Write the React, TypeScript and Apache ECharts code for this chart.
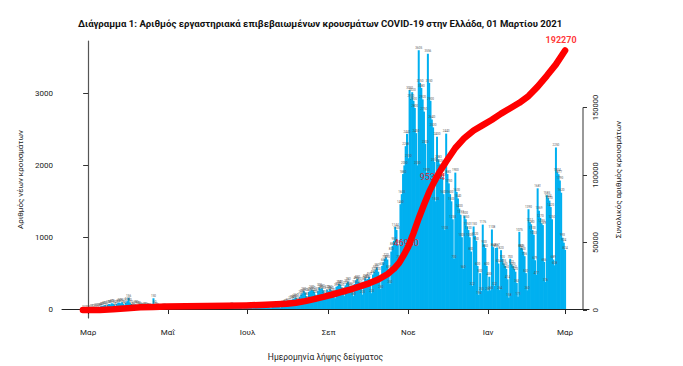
import React, { useEffect, useRef } from "react";
import * as echarts from "echarts";

// ---------------- DATA ----------------
const FIRST_BAR_DATE = "2020-02-26";

const cases2020Feb = [1, 1, 2, 3];
const cases2020Mar = [2, 3, 5, 9, 12, 15, 20, 10, 25, 30, 40, 45, 50, 55, 30, 60, 70, 65, 80, 75, 60, 40, 70, 85, 90, 80, 95, 70, 50, 90, 110];
const cases2020Apr = [156, 90, 70, 40, 30, 65, 60, 55, 50, 45, 30, 20, 35, 40, 30, 25, 20, 15, 10, 150, 60, 40, 20, 15, 10, 8, 15, 20, 15, 12];
const cases2020May = [8, 10, 5, 6, 12, 10, 15, 10, 8, 4, 10, 12, 15, 8, 10, 6, 3, 12, 10, 20, 15, 12, 8, 5, 12, 10, 18, 14, 10, 6, 5];
const cases2020Jun = [8, 12, 15, 10, 18, 12, 5, 10, 15, 12, 10, 20, 25, 8, 12, 30, 25, 20, 35, 15, 10, 18, 20, 22, 15, 12, 8, 10, 12, 20];
const cases2020Jul = [20, 25, 30, 15, 10, 35, 40, 45, 30, 40, 25, 15, 35, 40, 30, 25, 30, 20, 12, 30, 35, 40, 30, 45, 35, 20, 50, 60, 70, 80, 75];
const cases2020Aug = [100, 70, 120, 130, 140, 150, 160, 120, 90, 170, 200, 220, 250, 230, 180, 120, 240, 250, 270, 260, 240, 200, 140, 250, 300, 280, 290, 260, 200, 150, 270];
const cases2020Sep = [250, 280, 260, 230, 200, 150, 310, 320, 350, 340, 300, 250, 180, 330, 360, 380, 320, 300, 260, 180, 350, 400, 420, 380, 350, 280, 200, 380, 430, 410];
const cases2020Oct = [420, 450, 350, 220, 480, 520, 550, 580, 520, 400, 280, 600, 650, 700, 720, 690, 550, 350, 800, 880, 950, 1144, 1100, 900, 700, 1460, 1600, 1880, 2000, 2268, 2440];
const cases2020Nov = [2100, 3050, 2930, 3020, 2900, 2800, 2450, 2000, 3605, 3150, 3080, 2920, 2750, 2300, 1900, 3556, 3150, 2900, 2640, 2530, 2050, 1500, 2400, 2083, 2025, 1950, 1840, 1600, 1100, 2443];
const cases2020Dec = [1880, 1750, 1600, 1500, 1250, 700, 1900, 1630, 1540, 1400, 1313, 1000, 560, 1300, 1250, 1150, 1100, 1000, 800, 322, 1150, 1020, 950, 600, 196, 500, 253, 1176, 900, 850, 600];
const cases2021Jan = [250, 450, 260, 1108, 862, 322, 850, 857, 634, 264, 820, 700, 635, 600, 560, 414, 158, 700, 622, 600, 560, 520, 363, 171, 1075, 852, 846, 800, 736, 500, 260];
const cases2021Feb = [1390, 1211, 1180, 1100, 1033, 679, 477, 1681, 1369, 1270, 1195, 1169, 656, 376, 1585, 1544, 1510, 1420, 1250, 689, 608, 2250, 1904, 1877, 1790, 1620, 993, 924];
const cases2021Mar = [824];

const totalDates = [
  "2020-02-26", "2020-03-10", "2020-03-20", "2020-03-31", "2020-04-10", "2020-04-20", "2020-04-30",
  "2020-05-15", "2020-05-31", "2020-06-15", "2020-06-30", "2020-07-15", "2020-07-31", "2020-08-07",
  "2020-08-14", "2020-08-21", "2020-08-28", "2020-09-04", "2020-09-11", "2020-09-18", "2020-09-25",
  "2020-10-02", "2020-10-09", "2020-10-16", "2020-10-21", "2020-10-25", "2020-10-29", "2020-11-01",
  "2020-11-05", "2020-11-09", "2020-11-13", "2020-11-17", "2020-11-21", "2020-11-25", "2020-11-30",
  "2020-12-07", "2020-12-14", "2020-12-21", "2020-12-28", "2021-01-04", "2021-01-11", "2021-01-18",
  "2021-01-25", "2021-02-01", "2021-02-08", "2021-02-15", "2021-02-22", "2021-03-01",
];
const totalValues = [
  1, 100, 550, 1400, 2050, 2300, 2600,
  2800, 2950, 3200, 3450, 3900, 4650, 5400,
  6600, 8100, 9700, 11500, 13400, 15300, 17500,
  19800, 22600, 26500, 30500, 35000, 41500, 46980,
  57000, 68000, 78000, 87500, 95334, 102500, 110000,
  120000, 127500, 133000, 137000, 141000, 145500, 149500,
  153500, 158500, 165500, 173500, 182000, 192270,
];
const labelledTotalDates = ["2020-11-01", "2020-11-21", "2021-03-01"];

const monthTickDates = ["2020-03-01", "2020-05-01", "2020-07-01", "2020-09-01", "2020-11-01", "2021-01-01", "2021-03-01"];
const monthTickLabels = ["Μαρ", "Μαΐ", "Ιουλ", "Σεπ", "Νοε", "Ιαν", "Μαρ"];
const leftTicks = [0, 1000, 2000, 3000];
const rightTicks = [0, 50000, 100000, 150000];

const TITLE = "Διάγραμμα 1: Αριθμός εργαστηριακά επιβεβαιωμένων κρουσμάτων COVID-19 στην Ελλάδα, 01 Μαρτίου 2021";
const X_NAME = "Ημερομηνία λήψης δείγματος";
const LEFT_NAME = "Αριθμός νέων κρουσμάτων";
const RIGHT_NAME = "Συνολικός αριθμός κρουσμάτων";

// ---------------- HELPERS ----------------
const ORIGIN = Date.UTC(2020, 2, 1);
const DAY = 86400000;
const dayIndex = (s: string) => {
  const [y, m, d] = s.split("-").map(Number);
  return Math.round((Date.UTC(y, m - 1, d) - ORIGIN) / DAY);
};

const dailyCases = [
  ...cases2020Feb, ...cases2020Mar, ...cases2020Apr, ...cases2020May, ...cases2020Jun,
  ...cases2020Jul, ...cases2020Aug, ...cases2020Sep, ...cases2020Oct, ...cases2020Nov,
  ...cases2020Dec, ...cases2021Jan, ...cases2021Feb, ...cases2021Mar,
];

const FONT = "Roboto";
const plain = (v: number) => String(Math.round(v));

export default function App() {
  const ref = useRef<HTMLDivElement>(null);

  useEffect(() => {
    if (!ref.current) return;
    const chart = echarts.init(ref.current, undefined, { renderer: "svg" });
    const start = dayIndex(FIRST_BAR_DATE);
    const barData = dailyCases.map((v, i) => [start + i, v]);
    const lineData = totalDates.map((d, i) => [dayIndex(d), totalValues[i]]);
    const monthDays = monthTickDates.map(dayIndex);
    const labelData = labelledTotalDates.map((d, i) => {
      const v = totalValues[totalDates.indexOf(d)];
      const last = i === labelledTotalDates.length - 1;
      return {
        value: [dayIndex(d), v],
        label: last
          ? { position: "top", distance: 5, offset: [-4, 0], fontWeight: "bold" }
          : { position: "inside", offset: [-2, -4] },
      };
    });

    chart.setOption({
      animation: false,
      textStyle: { fontFamily: FONT },
      title: {
        text: TITLE,
        left: 73,
        top: 13,
        textStyle: { fontSize: 9.6, fontWeight: "bold", color: "#111", fontFamily: FONT },
      },
      grid: { left: 62, right: 94, top: 41, bottom: 46, containLabel: false },
      xAxis: {
        type: "value",
        min: -20,
        max: 383.3,
        splitLine: { show: false },
        axisLine: { show: true, lineStyle: { color: "#222", width: 1 } },
        axisTick: { show: true, customValues: monthDays, length: 5, lineStyle: { color: "#222" } },
        axisLabel: {
          customValues: monthDays,
          formatter: (v: number) => {
            const k = monthDays.indexOf(Math.round(v));
            return k >= 0 ? monthTickLabels[k] : "";
          },
          fontSize: 8,
          color: "#222",
          margin: 10,
        },
        name: X_NAME,
        nameLocation: "middle",
        nameGap: 34,
        nameTextStyle: { fontSize: 8.5, color: "#222" },
      },
      yAxis: [
        {
          type: "value",
          position: "left",
          min: -125,
          max: 3733,
          splitLine: { show: false },
          axisLine: { show: true, lineStyle: { color: "#555", width: 1.2 } },
          axisTick: { show: true, customValues: leftTicks, length: 5, lineStyle: { color: "#333" } },
          axisLabel: { customValues: leftTicks, formatter: plain, fontSize: 8, color: "#222", margin: 9 },
          name: LEFT_NAME,
          nameLocation: "middle",
          nameRotate: 90,
          nameGap: 32,
          nameTextStyle: { fontSize: 8, color: "#222" },
        },
        {
          type: "value",
          position: "right",
          offset: -6,
          min: -5900,
          max: 199300,
          splitLine: { show: false },
          axisLine: { show: false },
          axisTick: { show: true, customValues: rightTicks, length: 4, lineStyle: { color: "#333" } },
          axisLabel: { customValues: rightTicks, formatter: plain, rotate: 90, fontSize: 7.5, color: "#222", margin: 8 },
          name: RIGHT_NAME,
          nameLocation: "middle",
          nameRotate: 90,
          nameGap: 31,
          nameTextStyle: { fontSize: 8, color: "#222" },
        },
      ],
      series: [
        {
          type: "bar",
          name: "daily",
          xAxisIndex: 0,
          yAxisIndex: 0,
          data: barData,
          barWidth: 2,
          itemStyle: { color: "#00b0f0" },
          label: { show: true, position: "top", distance: 1, fontSize: 3, color: "#555" },
          z: 2,
        },
        {
          type: "scatter",
          name: "labels",
          yAxisIndex: 1,
          data: labelData,
          symbolSize: 1,
          itemStyle: { color: "rgba(0,0,0,0)" },
          label: {
            show: true,
            formatter: (p: any) => String(p.value[1]),
            color: "#ff0000",
            fontSize: 9,
          },
          z: 3,
        },
        {
          type: "line",
          name: "total",
          yAxisIndex: 1,
          data: lineData,
          symbol: "none",
          lineStyle: { color: "#ff0000", width: 6.5, cap: "round", join: "round" },
          z: 5,
        },
      ],
    });

    const xR = chart.convertToPixel({ xAxisIndex: 0 }, 383.3) as number;
    const y0 = chart.convertToPixel({ yAxisIndex: 1 }, rightTicks[0]) as number;
    const y1 = chart.convertToPixel({ yAxisIndex: 1 }, rightTicks[rightTicks.length - 1]) as number;
    chart.setOption({
      graphic: [
        {
          type: "line",
          shape: { x1: xR - 6, y1: y1, x2: xR - 6, y2: y0 },
          style: { stroke: "#555", lineWidth: 1.2 },
          silent: true,
        },
      ],
    });

    return () => chart.dispose();
  }, []);

  return (
    <div
      ref={ref}
      style={{ position: "fixed", left: 0, top: 0, width: 683, height: 366, background: "#fff" }}
    />
  );
}
